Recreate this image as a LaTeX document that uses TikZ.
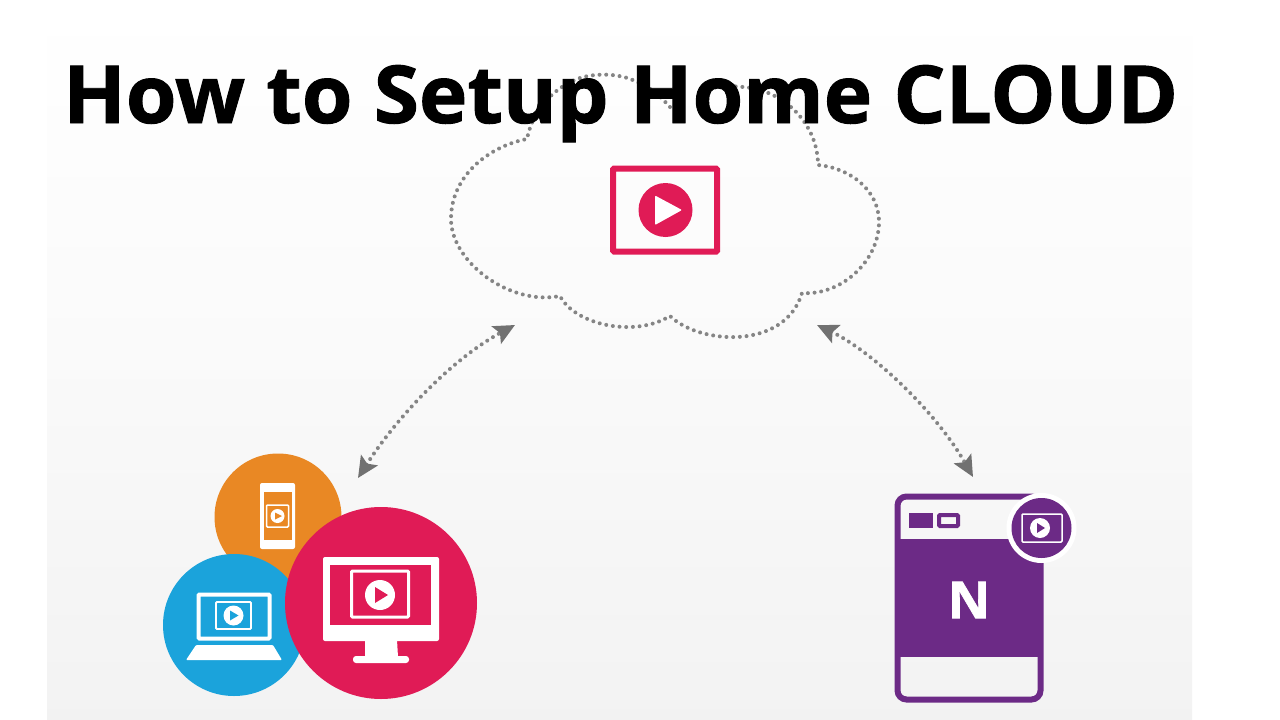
\documentclass[tikz,border=0pt]{standalone}
\usepackage{fontspec}
\setmainfont{Open Sans}[BoldFeatures={FakeBold=1.2, FakeStretch=1.024}]
\usetikzlibrary{arrows.meta, positioning}
\definecolor{crimson}{HTML}{E01B56}
\definecolor{amber}{HTML}{E98824}
\definecolor{sky}{HTML}{1BA3DB}
\definecolor{plum}{HTML}{6C2A86}
\definecolor{dotgray}{HTML}{858585}
\tikzstyle{disc} = [circle, inner sep=0pt, draw=none]
\tikzstyle{frame} = [rectangle, inner sep=0pt, rounded corners=1pt]
\tikzstyle{dots} = [dotgray, line width=4pt, line cap=round, dash pattern=on 0pt off 6.7pt]
\tikzstyle{link} = [dots, {Stealth[length=21pt, width=19.5pt, inset=4pt, color=dotgray!85!black]}-{Stealth[length=21pt, width=19.5pt, inset=4pt, color=dotgray!85!black]}]
\tikzstyle{title} = [font=\bfseries\fontsize{80}{80}\selectfont, text=black, inner sep=0pt, anchor=base west]
\begin{document}
\begin{tikzpicture}[x=1pt, y=-1pt]
     \useasboundingbox (0,0) rectangle (1280,720);
     % Background
     \fill [white] (0,0) rectangle (1280,720);
     \shade [top color=white, bottom color=black!5, middle color=black!2] (47,0) rectangle (1192,720);

     % Cloud
     \draw [dots] (670,107) .. controls (660,96) and (650,87) .. (637,82)
        .. controls (620,73) and (596,73) .. (580,78)
        .. controls (565,83) and (535,100) .. (527,139)
        .. controls (490,146) and (451,175) .. (451,219)
        .. controls (451,262) and (510,306) .. (560,296)
        .. controls (575,325) and (635,338) .. (670,316)
        .. controls (700,345) and (785,350) .. (802,293)
        .. controls (840,296) and (879,262) .. (879,222)
        .. controls (879,190) and (850,168) .. (818,165)
        .. controls (818,125) and (785,90) .. (743,87)
        .. controls (725,85) and (705,88) .. (697,92);

     % Nodes
     \coordinate (cloudleft) at (515,325);
     \coordinate (cloudright) at (817,325);
     \coordinate (devices) at (358,478);
     \coordinate (storage) at (973,477);
     \node [frame, draw=crimson, line width=6pt, minimum width=104pt, minimum height=83pt] (clip) at (665,210) {};
     \node [disc, fill=crimson, minimum size=54pt] (clipplay) at (665.5,210) {};
     \fill [white, rounded corners=1pt] (655,195.5) -- (682,210) -- (655,225) -- cycle;

     \node [disc, fill=amber, minimum size=127pt] (phone) at (278,517) {};
     \node [disc, fill=sky, minimum size=142pt] (laptop) at (234,625) {};
     \node [disc, fill=crimson, minimum size=192pt] (monitor) at (381,603) {};

     % phone
     \fill [white, rounded corners=2pt] (260,483) rectangle (295,549);
     \fill [amber] (264,492) rectangle (292,540);
     \node [frame, draw=white, line width=1.5pt, minimum width=22pt, minimum height=22pt] (phonefr) at (277.5,516) {};
     \node [disc, fill=white, minimum size=14pt] (phoneplay) at (277.5,516) {};
     \fill [amber] (275,512.5) -- (282,516) -- (275,519.5) -- cycle;

     % laptop
     \node [frame, draw=white, line width=4pt, minimum width=71pt, minimum height=44pt] (lapscreen) at (234,616.5) {};
     \node [frame, draw=white, line width=1.8pt, minimum width=35pt, minimum height=27pt] (lapfr) at (233.5,615.5) {};
     \node [disc, fill=white, minimum size=20pt] (lapplay) at (233.5,615.5) {};
     \fill [sky] (230,610.5) -- (238.5,615.5) -- (230,620.5) -- cycle;
     \fill [white, rounded corners=1pt] (196,645) -- (273,645) -- (282,660) -- (186,660) -- cycle;

     % monitor
     \fill [white, rounded corners=2pt] (323,557) rectangle (439,641);
     \fill [crimson] (330,565) rectangle (431,625);
     \node [frame, draw=white, line width=3pt, minimum width=57pt, minimum height=46pt] (monfr) at (380,594) {};
     \node [disc, fill=white, minimum size=30pt] (monplay) at (380,595) {};
     \fill [crimson] (375,587) -- (388,595) -- (375,603) -- cycle;
     \fill [white] (365,640) -- (397,640) -- (398,657) -- (365,657) -- cycle;
     \fill [white, rounded corners=3pt] (353,656) rectangle (409,663);

     % storage
     \node [frame, draw=plum, line width=6pt, rounded corners=9pt, minimum width=143pt, minimum height=203pt] (nas) at (969,598) {};
     \fill [plum] (897,539) rectangle (1043,657);
     \fill [plum] (909,513) rectangle (933,528);
     \node [frame, draw=plum, line width=4pt, minimum width=19pt, minimum height=11pt] (nasslot) at (948.5,520.5) {};
     \node [font=\bfseries\fontsize{51}{51}\selectfont, text=white, inner sep=0pt] (nasletter) at (969,600) {N};
     \node [disc, fill=white, minimum size=70pt] (badgering) at (1041.5,528) {};
     \node [disc, fill=plum, minimum size=60pt] (badge) at (1041.5,528) {};
     \node [frame, draw=white, line width=1.5pt, minimum width=40pt, minimum height=28pt] (badgefr) at (1042,528) {};
     \node [disc, fill=white, minimum size=20pt] (badgeplay) at (1040,528) {};
     \fill [plum] (1037,523) -- (1045,528) -- (1037,533) -- cycle;

     % Arrows
     \draw [link] (devices) .. controls (395,420) and (450,360) .. (cloudleft);
     \draw [link] (cloudright) .. controls (870,350) and (935,410) .. (storage);

     % Title
     \node [title] (heading) at (63,123) {How to Setup Home CLOUD};
\end{tikzpicture}
\end{document}
